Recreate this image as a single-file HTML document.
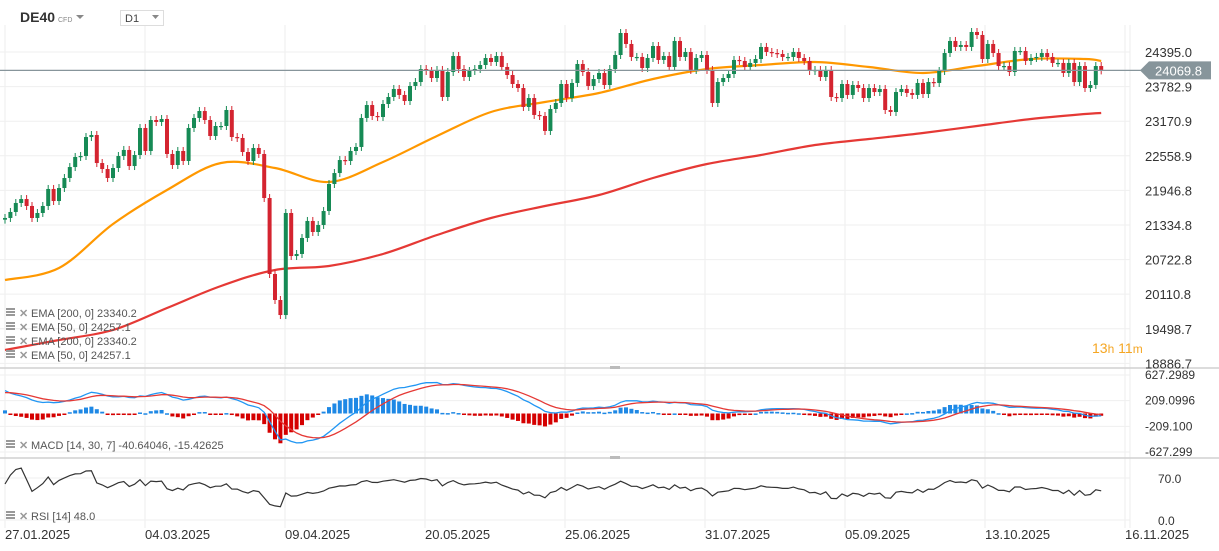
<!DOCTYPE html>
<html><head><meta charset="utf-8">
<style>
body{margin:0;background:#fff;font-family:"Liberation Sans",sans-serif;}
#wrap{position:relative;width:1219px;height:551px;overflow:hidden;background:#fff}
svg{position:absolute;left:0;top:0}
.t{font-family:"Liberation Sans",sans-serif}
</style></head>
<body>
<div id="wrap">
<svg id="chart" width="1219" height="551"></svg>
</div>
<script>
const closes=[21459,21565,21724,21794,21671,21459,21547,21671,21972,21759,21989,22166,22360,22538,22555,22891,22927,22431,22325,22166,22343,22555,22662,22378,22573,23051,22644,23192,23157,23210,22591,22396,22644,22467,23051,23228,23351,23192,22909,23086,23086,23369,22891,22874,22626,22467,22697,22591,21812,20468,
20008,19742,21547,20786,20822,21105,21406,21211,21335,21582,22060,22254,22484,22467,22644,22715,23228,23457,23263,23245,23475,23599,23741,23635,23528,23794,23864,24094,24059,23935,24077,23599,24041,24324,24094,23953,24059,24094,24165,24289,24218,24324,24130,23988,23829,23758,23422,23581,23281,23263,22998,23387,23493,
23829,23581,23847,24183,24041,23794,23917,24024,23811,24094,24342,24731,24537,24307,24307,24112,24289,24501,24254,24324,24130,24590,24307,24395,24077,24289,24342,24077,23493,23864,23935,24006,24254,24236,24130,24201,24271,24484,24395,24377,24360,24307,24307,24395,24289,24236,24059,24077,23953,24077,23599,
23581,23829,23635,23811,23758,23581,23758,23687,23741,23369,23334,23687,23741,23670,23635,23847,23652,23864,23847,24059,24377,24590,24484,24519,24484,24749,24696,24271,24537,24377,24147,24147,24041,24413,24413,24236,24289,24307,24377,24307,24201,24201,24024,24201,23864,24147,23758,23811,24147,24069.8];
const ema50=[20362,20574,21352,21954,22432,22343,22096,22449,22909,23334,23511,23670,23917,24094,24165,24218,24130,24024,24147,24271,24271,24236];
const ema200=[19124,19300,19477,19866,20256,20539,20610,20822,21158,21459,21671,21865,22166,22414,22573,22750,22856,22962,23086,23210,23298,23316];
const priceTicks=["24395.0","23782.9","23170.9","22558.9","21946.8","21334.8","20722.8","20110.8","19498.7","18886.7"];
const macdTicks=["627.2989","209.0996","-209.100","-627.299"];
const rsiTicks=["70.0","0.0"];
const dateLabels=["27.01.2025","04.03.2025","09.04.2025","20.05.2025","25.06.2025","31.07.2025","05.09.2025","13.10.2025","16.11.2025"];

const NS="http://www.w3.org/2000/svg";
const svg=document.getElementById('chart');
function mk(tag,attrs,parent){const e=document.createElementNS(NS,tag);for(const k in attrs)e.setAttribute(k,attrs[k]);(parent||svg).appendChild(e);return e;}
const X0=5,STEP=5.4;
const xI=i=>X0+i*STEP;
const yP=p=>52+(24395-p)*0.05653;
const yM=v=>413.5-v*0.0614;
const yR=v=>520-v*0.6;

const grid=mk('g',{});


for(let k=0;k<9;k++){const x=5+k*140;mk('line',{x1:x,x2:x,y1:25,y2:528,stroke:'#eeeeee','stroke-width':1},grid);}
priceTicks.forEach(t=>{const y=yP(parseFloat(t));mk('line',{x1:0,x2:1130,y1:y,y2:y,stroke:'#efefef'},grid);});
[627.2989,209.0996,-209.1,-627.299].forEach(v=>{const y=yM(v);mk('line',{x1:0,x2:1130,y1:y,y2:y,stroke:'#efefef'},grid);});
[70,0].forEach(v=>{const y=yR(v);mk('line',{x1:0,x2:1130,y1:y,y2:y,stroke:'#efefef'},grid);});
mk('line',{x1:1130,x2:1130,y1:25,y2:528,stroke:'#eeeeee'},grid);
mk('line',{x1:0,x2:1219,y1:368,y2:368,stroke:'#d0d0d0','stroke-width':1.5});
mk('line',{x1:0,x2:1219,y1:458,y2:458,stroke:'#d0d0d0','stroke-width':1.5});
mk('rect',{x:610,y:366,width:10,height:3,fill:'#bbb'});
mk('rect',{x:610,y:456,width:10,height:3,fill:'#bbb'});

function emaPath(arr,color,name){
  const pts=arr.map((p,k)=>[xI(Math.min(k*10,closes.length-1)),yP(p)]);
  let d='M'+pts[0][0].toFixed(1)+','+pts[0][1].toFixed(1);
  for(let k=0;k<pts.length-1;k++){
    const p0=pts[Math.max(k-1,0)],p1=pts[k],p2=pts[k+1],p3=pts[Math.min(k+2,pts.length-1)];
    const c1=[p1[0]+(p2[0]-p0[0])/6,p1[1]+(p2[1]-p0[1])/6],c2=[p2[0]-(p3[0]-p1[0])/6,p2[1]-(p3[1]-p1[1])/6];
    d+='C'+c1[0].toFixed(1)+','+c1[1].toFixed(1)+' '+c2[0].toFixed(1)+','+c2[1].toFixed(1)+' '+p2[0].toFixed(1)+','+p2[1].toFixed(1);
  }
  const e=mk('path',{d:d,fill:'none',stroke:color,'stroke-width':2.2,'stroke-linejoin':'round'});
  
  
}
emaPath(ema200,'#e53935','ema-200-line');
emaPath(ema50,'#ff9800','ema-50-line');

const cg=mk('g',{});


closes.forEach((c,i)=>{
  const o=i?closes[i-1]:closes[0]-30;
  const up=c>=o,col=up?'#168a55':'#d42430';
  const x=xI(i),y1=yP(Math.max(o,c)),y2=yP(Math.min(o,c));
  const wl=mk('line',{x1:x,x2:x,y1:y1-4,y2:y2+4,stroke:col,'stroke-width':1},cg);
  
  const r=mk('rect',{x:x-2,y:y1,width:4,height:Math.max(1.2,y2-y1),fill:col},cg);
  
});

mk('line',{x1:0,x2:1147,y1:yP(24069.8),y2:yP(24069.8),stroke:'#87959b','stroke-width':1.2});
const lp=mk('path',{d:`M1140,${yP(24069.8)} L1149,${yP(24069.8)-9} L1211,${yP(24069.8)-9} L1211,${yP(24069.8)+9} L1149,${yP(24069.8)+9} Z`,fill:'#87959b'});


const lpt=mk('text',{x:1155,y:yP(24069.8)+5,fill:'#fff','font-size':13,class:'t'});lpt.textContent='24069.8';

priceTicks.forEach(t=>{const e=mk('text',{x:1145,y:yP(parseFloat(t))+5,fill:'#333','font-size':13,class:'t'});e.textContent=t;
});
macdTicks.forEach(t=>{const e=mk('text',{x:1145,y:yM(parseFloat(t))+4,fill:'#333','font-size':12,class:'t'});e.textContent=t;
});
rsiTicks.forEach(t=>{const e=mk('text',{x:1158,y:yR(parseFloat(t))+5,fill:'#333','font-size':12,class:'t'});e.textContent=t;
});
dateLabels.forEach((t,k)=>{const e=mk('text',{x:5+k*140,y:539,fill:'#333','font-size':13,class:'t'});e.textContent=t;
});

function emaSeries(arr,n,seed){const a=2/(n+1);let v=seed;return arr.map(x=>{v=v+a*(x-v);return v;});}
const f=emaSeries(closes,14,closes[0]+430),s=emaSeries(closes,30,closes[0]);
const macd=f.map((v,i)=>v-s[i]);
const sig=emaSeries(macd,7,330);
const hg=mk('g',{});


macd.forEach((m,i)=>{const h=(m-sig[i])*1.6;const y0=yM(0),y1=yM(h);
  mk('rect',{x:xI(i)-2,y:Math.min(y0,y1),width:4,height:Math.max(1.5,Math.abs(y1-y0)),fill:h>=0?'#1e88e5':'#d50000'},hg);});
function linePath(arr,fy,color,name,w){let d='';arr.forEach((v,i)=>{d+=(i?'L':'M')+xI(i).toFixed(1)+','+fy(v).toFixed(1);});
  const e=mk('path',{d:d,fill:'none',stroke:color,'stroke-width':w||1.3});}
linePath(macd,yM,'#2196f3','macd-line');
linePath(sig,yM,'#e53935','macd-signal-line');

const rsi=[];let ag=9,al=6;
closes.forEach((c,i)=>{const d=i?c-closes[i-1]:0;const g=Math.max(d,0),l=Math.max(-d,0);ag=(ag*13+g)/14;al=(al*13+l)/14;rsi.push(100-100/(1+ag/(al||1e-9)));});
linePath(rsi,yR,'#333','rsi-line',1.2);

function legend(y,txt,name){
  const g=mk('g',{});
  mk('rect',{x:6,y:y-8,width:9,height:2,fill:'#999'},g);mk('rect',{x:6,y:y-5,width:9,height:2,fill:'#999'},g);mk('rect',{x:6,y:y-2,width:9,height:2,fill:'#999'},g);
  const x=mk('text',{x:19,y:y+1,fill:'#999','font-size':11,'font-weight':'bold',class:'t'},g);x.textContent='✕';
  const t=mk('text',{x:31,y:y+1,fill:'#555','font-size':11,class:'t'},g);t.textContent=txt;
}
legend(316,'EMA [200,  0] 23340.2','legend-ema-200');
legend(330,'EMA [50,  0] 24257.1','legend-ema-50');
legend(344,'EMA [200,  0] 23340.2','legend-ema-200-b');
legend(358,'EMA [50,  0] 24257.1','legend-ema-50-b');
legend(448,'MACD  [14,  30,  7] -40.64046,  -15.42625','legend-macd');
legend(519,'RSI  [14]  48.0','legend-rsi');

const cd=mk('text',{x:1092,y:353,fill:'#f5a623','font-size':14,class:'t'});

cd.innerHTML='13<tspan font-size="12">h</tspan> 11<tspan font-size="12">m</tspan>';

const sym=mk('text',{x:20,y:22,fill:'#333','font-size':14,'font-weight':'bold',class:'t'});sym.textContent='DE40';

const cfd=mk('text',{x:58,y:22,fill:'#888','font-size':7,class:'t'});cfd.textContent='CFD';
const tri=mk('path',{d:'M76,15 L84,15 L80,19 Z',fill:'#888'});
const tf=mk('rect',{x:120.5,y:10.5,width:43,height:15,fill:'#fff',stroke:'#ddd'});
const tft=mk('text',{x:125,y:22,fill:'#444','font-size':11,class:'t'});tft.textContent='D1';
mk('path',{d:'M152,15 L159,15 L155.5,19 Z',fill:'#888'});
</script>
</body></html>
